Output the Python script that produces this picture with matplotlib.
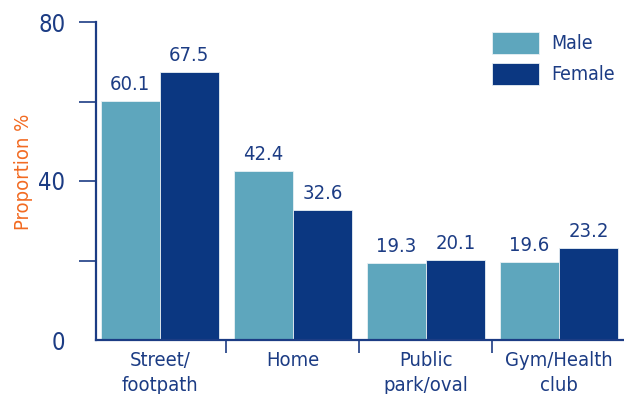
import matplotlib.pyplot as plt
import numpy as np

categories = ["Street/\nfootpath", "Home", "Public\npark/oval", "Gym/Health\nclub"]
male = [60.1, 42.4, 19.3, 19.6]
female = [67.5, 32.6, 20.1, 23.2]

plt.rcParams['font.family'] = ['DejaVu Sans']
plt.rcParams['font.stretch'] = 'condensed'

navy = '#1c3c84'
c_male = '#5ea6bd'
c_female = '#0b3781'

fig = plt.figure(figsize=(6.24, 3.94), dpi=100)
ax = fig.add_axes([96 / 624, 1 - 340 / 394, 1 - 96 / 624, 318 / 394])

x = np.arange(len(categories))
w = 0.444
b1 = ax.bar(x - w / 2, male, w, color=c_male, edgecolor='#e8f0f4', linewidth=0.6, label='Male')
b2 = ax.bar(x + w / 2, female, w, color=c_female, edgecolor='#e8f0f4', linewidth=0.6, label='Female')

for bars, vals in ((b1, male), (b2, female)):
    for r, v in zip(bars, vals):
        ax.text(r.get_x() + r.get_width() / 2, v + 1.8, f"{v:.1f}", ha='center', va='bottom',
                fontsize=14.5, color=navy)

ax.set_xlim(-0.48, 3.49)
ax.set_ylim(0, 80)

for s in ('top', 'right'):
    ax.spines[s].set_visible(False)
for s in ('left', 'bottom'):
    ax.spines[s].set_color(navy)
    ax.spines[s].set_linewidth(1.6)

ax.set_yticks([0, 40, 80])
ax.set_yticks([20, 60], minor=True)
ax.tick_params(axis='y', which='both', length=12, width=1.2, color=navy, labelsize=17,
               labelcolor=navy, pad=10)
ax.yaxis.get_major_ticks()[0].tick1line.set_visible(False)

ax.set_xticks(x)
ax.set_xticklabels(categories, linespacing=1.4)
ax.set_xticks([0.5, 1.5, 2.5], minor=True)
ax.tick_params(axis='x', which='major', length=0, labelsize=14.5, labelcolor=navy, pad=8)
ax.tick_params(axis='x', which='minor', length=9, width=1.2, color=navy)

ax.set_ylabel("Proportion %", color='#f26a21', fontsize=14.5)
ax.yaxis.set_label_coords(-0.12, 0.53)

leg = ax.legend(loc='upper right', bbox_to_anchor=(1.015, 1.025), frameon=False, fontsize=14,
                handlelength=2.4, handleheight=1.4, labelspacing=0.45, handletextpad=0.6)
for t in leg.get_texts():
    t.set_color(navy)

fig.savefig("out.png", dpi=100)
